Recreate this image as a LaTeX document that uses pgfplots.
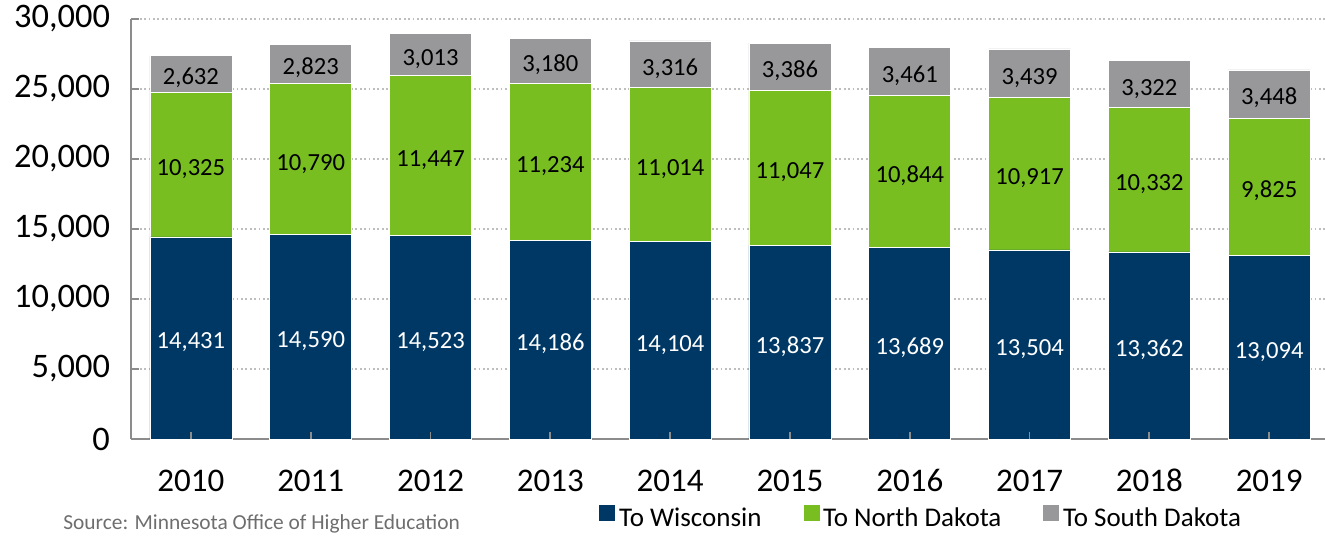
\documentclass[border=0pt]{standalone}
\usepackage{fontspec}
\setmainfont{Carlito}
\usepackage{pgfplots}
\usepackage{pgfplotstable}
\pgfplotsset{compat=1.18}

\definecolor{wicol}{RGB}{0,56,101}
\definecolor{ndcol}{RGB}{120,190,32}
\definecolor{sdcol}{RGB}{152,152,154}
\definecolor{axisgray}{RGB}{140,140,140}
\definecolor{gridgray}{RGB}{190,190,190}
\definecolor{srcgray}{RGB}{110,110,110}

% students leaving Minnesota, by destination state
\pgfplotstableread{
x year wi nd sd
0 2010 14431 10325 2632
1 2011 14590 10790 2823
2 2012 14523 11447 3013
3 2013 14186 11234 3180
4 2014 14104 11014 3316
5 2015 13837 11047 3386
6 2016 13689 10844 3461
7 2017 13504 10917 3439
8 2018 13362 10332 3322
9 2019 13094 9825 3448
}\migration

\pgfplotsset{
  frame/.style={width=597pt, height=210pt, scale only axis,
    xmin=-0.5, xmax=9.466, ymin=0, ymax=30000, clip=false,
    /pgf/number format/assume math mode=true,
    /pgf/number format/fixed, /pgf/number format/1000 sep={,}},
  seglabel/.style={draw=none, mark=none, nodes near coords, point meta=explicit,
    every node near coord/.style={anchor=center, yshift=-1.5pt,
      text height=8pt, text depth=0pt,
      font=\fontsize{12.3}{14}\selectfont, text=#1}},
}

\begin{document}
\begin{tikzpicture}
\useasboundingbox (-65.5pt,-48pt) rectangle (597pt,219.5pt);
\begin{axis}[frame,
  ybar stacked, bar width=41pt,
  axis x line*=bottom, axis y line*=left,
  axis line style={-, draw=axisgray, line width=0.9pt},
  xtick={0,...,9},
  xticklabels={2010,2011,2012,2013,2014,2015,2016,2017,2018,2019},
  x tick style={draw=none},
  ytick={0,5000,...,30000},
  y tick style={draw=axisgray, line width=0.9pt},
  major tick length=4pt, tick align=inside,
  scaled y ticks=false,
  xticklabel style={font=\fontsize{16.5}{19}\selectfont, yshift=-11.5pt,
    text height=11pt, text depth=0pt},
  yticklabel style={font=\fontsize{17.2}{19}\selectfont, xshift=-7pt},
  ymajorgrids, grid style={draw=gridgray, line width=0.9pt, dash pattern=on 0.9pt off 1.3pt},
  legend style={at={(0.387,-0.1905)}, anchor=west, draw=none, fill=none,
    legend columns=3, font=\fontsize{13.5}{15}\selectfont,
    /tikz/every even column/.append style={column sep=19pt}},
  legend cell align=left,
]
\addplot[fill=wicol, draw=white, line width=0.3pt,
  legend image code/.code={\fill[wicol] (0pt,-0.5pt) rectangle (7.5pt,7pt);}]
  table[x=x, y=wi] {\migration};
\addplot[fill=ndcol, draw=white, line width=0.3pt,
  legend image code/.code={\fill[ndcol] (0pt,-0.5pt) rectangle (7.5pt,7pt);}]
  table[x=x, y=nd] {\migration};
\addplot[fill=sdcol, draw=white, line width=0.3pt,
  legend image code/.code={\fill[sdcol] (0pt,-0.5pt) rectangle (7.5pt,7pt);}]
  table[x=x, y=sd] {\migration};
\legend{To Wisconsin, To North Dakota, To South Dakota}
\node[anchor=base west, text=srcgray, font=\fontsize{10.7}{13}\selectfont, inner sep=0pt]
  at (rel axis cs:-0.057,-0.2165) {Source: Minnesota Office of Higher Education};
\end{axis}
% overlay: segment labels and the small ticks on top of the bars
\begin{axis}[frame,
  hide y axis, axis x line*=bottom, x axis line style={draw=none},
  xtick={0,...,9}, xticklabels={},
  major tick length=3.5pt, tick align=inside,
  x tick style={draw=axisgray, line width=0.9pt},
]
\addplot[seglabel=white] table[x=x, y expr=\thisrow{wi}/2, meta=wi] {\migration};
\addplot[seglabel=black] table[x=x, y expr=\thisrow{wi}+\thisrow{nd}/2, meta=nd] {\migration};
\addplot[seglabel=black] table[x=x, y expr=\thisrow{wi}+\thisrow{nd}+\thisrow{sd}/2, meta=sd] {\migration};
\end{axis}
\end{tikzpicture}
\end{document}
